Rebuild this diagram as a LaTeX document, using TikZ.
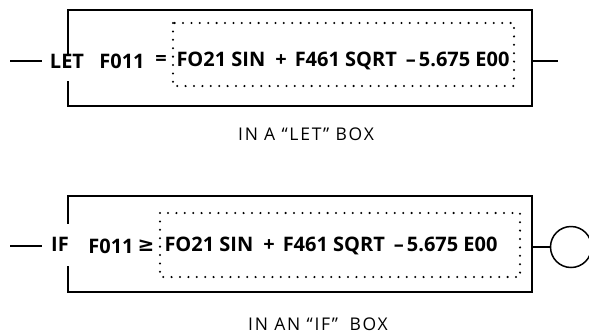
\documentclass[tikz,border=0pt]{standalone}
\usepackage{fontspec}
\setmainfont{Open Sans}
\newfontfamily\symfont{DejaVu Sans}
\newfontfamily\capfont[LetterSpace=10]{Open Sans}
\tikzset{
  frame/.style={line width=1.8pt, line join=miter, line cap=rect},
  dotbox/.style={line width=2.3pt, dash pattern=on 0pt off 8.4pt, line cap=round},
  wire/.style={line width=1.5pt},
  word/.style={font=\fontsize{20}{23}\selectfont\bfseries, inner sep=0pt, anchor=center},
  caption/.style={font=\fontsize{17.5}{20}\selectfont\capfont, inner sep=0pt},
}
\newcommand{\exprtext}{FO21 SIN\hspace{0.5em}+\hspace{0.4em}F461 SQRT\hspace{0.45em}–\hspace{0.15em}5.675 E00}
\begin{document}
\begin{tikzpicture}[x=1pt, y=-1pt]
\useasboundingbox (0,0) rectangle (589,335);

% ---------- LET box ----------
\draw[frame] (68,55) -- (68,10) -- (532,10) -- (532,106) -- (68,106) -- (68,82);
\draw[dotbox] (173,23) rectangle (514,86);
\coordinate (letin) at (10,61);
\coordinate (letstub) at (42,61);
\coordinate (letout) at (532,61);
\coordinate (letend) at (558,61);
\draw[wire] (letin) -- (letstub);
\draw[wire] (letout) -- (letend);
\node[word] (letkw) at (67,61) {LET};
\node[word] (letvar) at (122,61) {F011};
\node[word] (leteq) at (161,60) {=};
\node[word] (letexpr) at (343,61) {\exprtext};
\node[caption] (letcap) at (306,134) {IN A “LET” BOX};

% ---------- IF box ----------
\draw[frame] (68,223) -- (68,196) -- (532,196) -- (532,292) -- (68,292) -- (68,267);
\draw[dotbox] (160,213) rectangle (520,277);
\coordinate (ifin) at (10,246);
\coordinate (ifstub) at (42,246);
\coordinate (ifout) at (532,247);
\node[draw, circle, line width=1.5pt, minimum size=41pt, inner sep=0pt] (ifend) at (571,247) {};
\draw[wire] (ifin) -- (ifstub);
\draw[wire] (ifout) -- (ifend.west);
\node[word] (ifkw) at (60,244) {IF};
\node[word] (ifvar) at (111,246) {F011};
\node[word, font=\fontsize{20}{23}\selectfont\symfont\bfseries] (ifge) at (146,246) {≥};
\node[word] (ifexpr) at (331,246) {\exprtext};
\node[caption] (ifcap) at (318,324) {IN AN “IF”\hspace{0.3em} BOX};
\end{tikzpicture}
\end{document}
